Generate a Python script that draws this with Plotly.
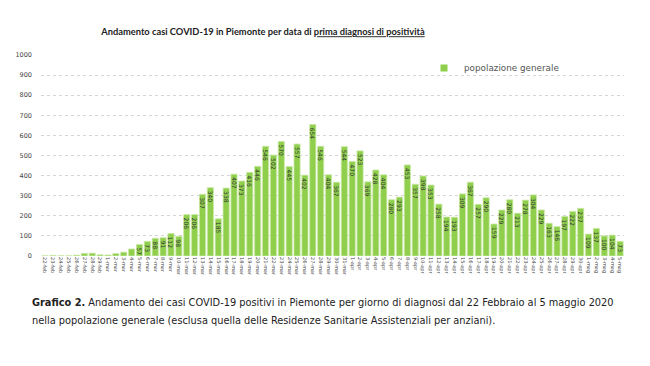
import plotly.graph_objects as go

dates = (
    [f"{d}-feb" for d in range(22, 30)]
    + [f"{d}-mar" for d in range(1, 32)]
    + [f"{d}-apr" for d in range(1, 31)]
    + [f"{d}-mag" for d in range(1, 6)]
)

cases_feb = [1, 3, 1, 1, 4, 13, 14, 6]
cases_mar = [5, 12, 19, 35, 57, 73, 88, 91, 112, 98, 206, 206, 307, 340, 185, 338,
             407, 373, 416, 446, 546, 502, 570, 445, 557, 402, 654, 546, 404, 367, 544]
cases_apr = [470, 523, 369, 428, 404, 280, 293, 453, 357, 398, 353, 258, 194, 193, 309,
             367, 257, 290, 159, 229, 280, 213, 278, 304, 229, 163, 146, 197, 222, 237]
cases_mag = [109, 137, 100, 104, 73]
cases = cases_feb + cases_mar + cases_apr + cases_mag

labels = [str(v) if v >= 50 else "" for v in cases]

FONT = "DejaVu Sans"
GREEN = "#8fcf4c"

# page has an 8px body margin; figure sized to fit inside it
W, H = 634, 350
L, R, T, B = 33, 18, 47, 102
PW, PH = W - L - R, H - T - B


def px(xp):  # page x -> paper x
    return (xp - 8 - L) / PW


def py(yp):  # page y -> paper y
    return (H - B - (yp - 8)) / PH


fig = go.Figure()
fig.add_trace(go.Bar(
    x=dates, y=cases, name="popolazione generale", showlegend=False,
    marker=dict(color=GREEN, line=dict(color="#c9e9a6", width=0.8)),
    text=labels, textposition="inside", insidetextanchor="end",
    textangle=90, constraintext="none",
    textfont=dict(family=FONT, size=6, color="#333333"),
))
fig.add_trace(go.Scatter(
    x=[None], y=[None], mode="markers", name="popolazione generale",
    marker=dict(symbol="square", size=7, color=GREEN),
))

fig.update_layout(
    width=W, height=H,
    margin=dict(l=L, r=R, t=T, b=B, autoexpand=False),
    paper_bgcolor="white", plot_bgcolor="white",
    bargap=0.22,
    showlegend=True,
    uniformtext=dict(minsize=6, mode="show"),
    title=dict(
        text="<b>Andamento casi COVID-19 in Piemonte per data di <u>prima diagnosi di positività</u></b>",
        x=(263 - 8) / W, xanchor="center", xref="container",
        y=1 - (32 - 8) / H, yanchor="middle", yref="container",
        font=dict(family="Lato", size=9.3, color="#222222"),
    ),
    legend=dict(
        x=px(424), y=py(68), xanchor="left", yanchor="middle",
        bgcolor="rgba(0,0,0,0)", font=dict(family=FONT, size=8.8, color="#555555"),
        itemwidth=30,
    ),
    xaxis=dict(
        type="category", tickangle=90, tickfont=dict(family=FONT, size=5, color="#444444"),
        showgrid=False, showline=False, ticks="", automargin=False,
    ),
    yaxis=dict(
        range=[0, 1000], dtick=100, showgrid=True, gridcolor="#d5d5d5", griddash="dot",
        gridwidth=1, zeroline=False, showline=False, automargin=False,
        ticklabelstandoff=8,
        tickfont=dict(family=FONT, size=6.5, color="#444444"),
    ),
    annotations=[
        dict(
            text="<b>Grafico 2.</b> Andamento dei casi COVID-19 positivi in Piemonte per giorno di diagnosi dal 22 Febbraio al 5 maggio 2020",
            xref="paper", yref="paper", x=px(30), y=py(302),
            xanchor="left", yanchor="middle", align="left", showarrow=False,
            font=dict(family=FONT, size=9.8, color="#222222"),
        ),
        dict(
            text="nella popolazione generale (esclusa quella delle Residenze Sanitarie Assistenziali per anziani).",
            xref="paper", yref="paper", x=px(30), y=py(320),
            xanchor="left", yanchor="middle", align="left", showarrow=False,
            font=dict(family=FONT, size=9.8, color="#222222"),
        ),
    ],
)

fig.write_html("out.html")
